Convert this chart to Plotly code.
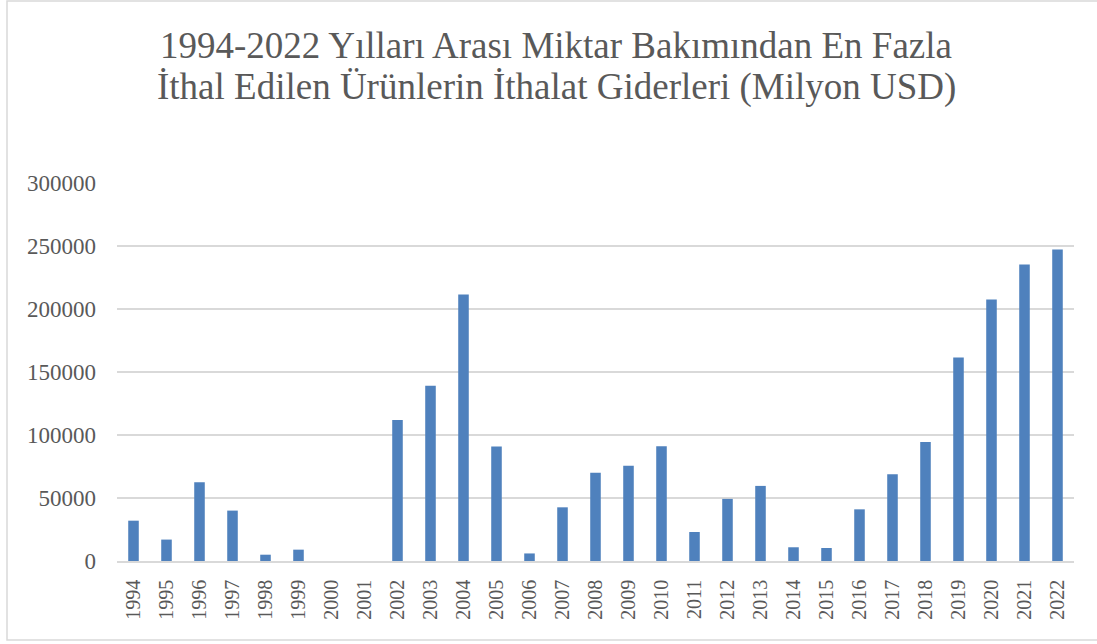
import plotly.graph_objects as go

years = [str(y) for y in range(1994, 2023)]
values = [32000, 17000, 62500, 40000, 5000, 9000, 0, 0, 112000, 139000, 211500, 90800,
          6000, 42600, 70000, 75500, 91000, 23000, 49300, 59600, 10900, 10300,
          41000, 68900, 94500, 161500, 207600, 235300, 247300]
y_ticks = [0, 50000, 100000, 150000, 200000, 250000, 300000]

title_lines = ["1994-2022 Yılları Arası Miktar Bakımından En Fazla",
               "İthal Edilen Ürünlerin İthalat Giderleri (Milyon USD)"]

W, H = 1097, 644
L, R, T, B = 117, 23, 183, 83
pw, ph = W - L - R, H - T - B
SERIF = "Liberation Serif, Times New Roman, serif"

fig = go.Figure(go.Bar(x=years, y=values, marker=dict(color="#4f81bd", line=dict(width=0))))

annotations = []
for i, (line, cy) in enumerate(zip(title_lines, [45, 87])):
    annotations.append(dict(text=line, xref="paper", yref="paper",
                            x=(556 - L) / pw, y=(H - B - cy) / ph,
                            xanchor="center", yanchor="middle", showarrow=False,
                            font=dict(size=37, color="#595959", family=SERIF)))

fig.update_layout(
    width=W, height=H,
    margin=dict(l=L, r=R, t=T, b=B),
    paper_bgcolor="white", plot_bgcolor="white",
    bargap=0.68,
    showlegend=False,
    font=dict(family=SERIF, color="#595959"),
    annotations=annotations,
    xaxis=dict(type="category", tickangle=-90, tickfont=dict(size=20, color="#595959"),
               showgrid=False, showline=True, linecolor="#d9d9d9", linewidth=1.5,
               ticks="", ticklabelstandoff=9),
    yaxis=dict(range=[0, 300000], tickvals=y_ticks, ticktext=[str(v) for v in y_ticks],
               tickfont=dict(size=23, color="#595959"), showgrid=True, gridcolor="#d9d9d9",
               gridwidth=1.5, zeroline=False, showline=False, ticks="", ticklabelstandoff=20),
    shapes=[dict(type="rect", xref="paper", yref="paper",
                 x0=(7 - L) / pw, x1=(W + 5 - L) / pw,
                 y0=(H - B - 640) / ph, y1=(H - B - 1) / ph,
                 line=dict(color="#d9d9d9", width=1.5), fillcolor="rgba(0,0,0,0)", layer="below")],
)

fig.write_html("out.html", config={"displayModeBar": False},
               post_script="document.body.style.margin='0';document.body.style.overflow='hidden';")
